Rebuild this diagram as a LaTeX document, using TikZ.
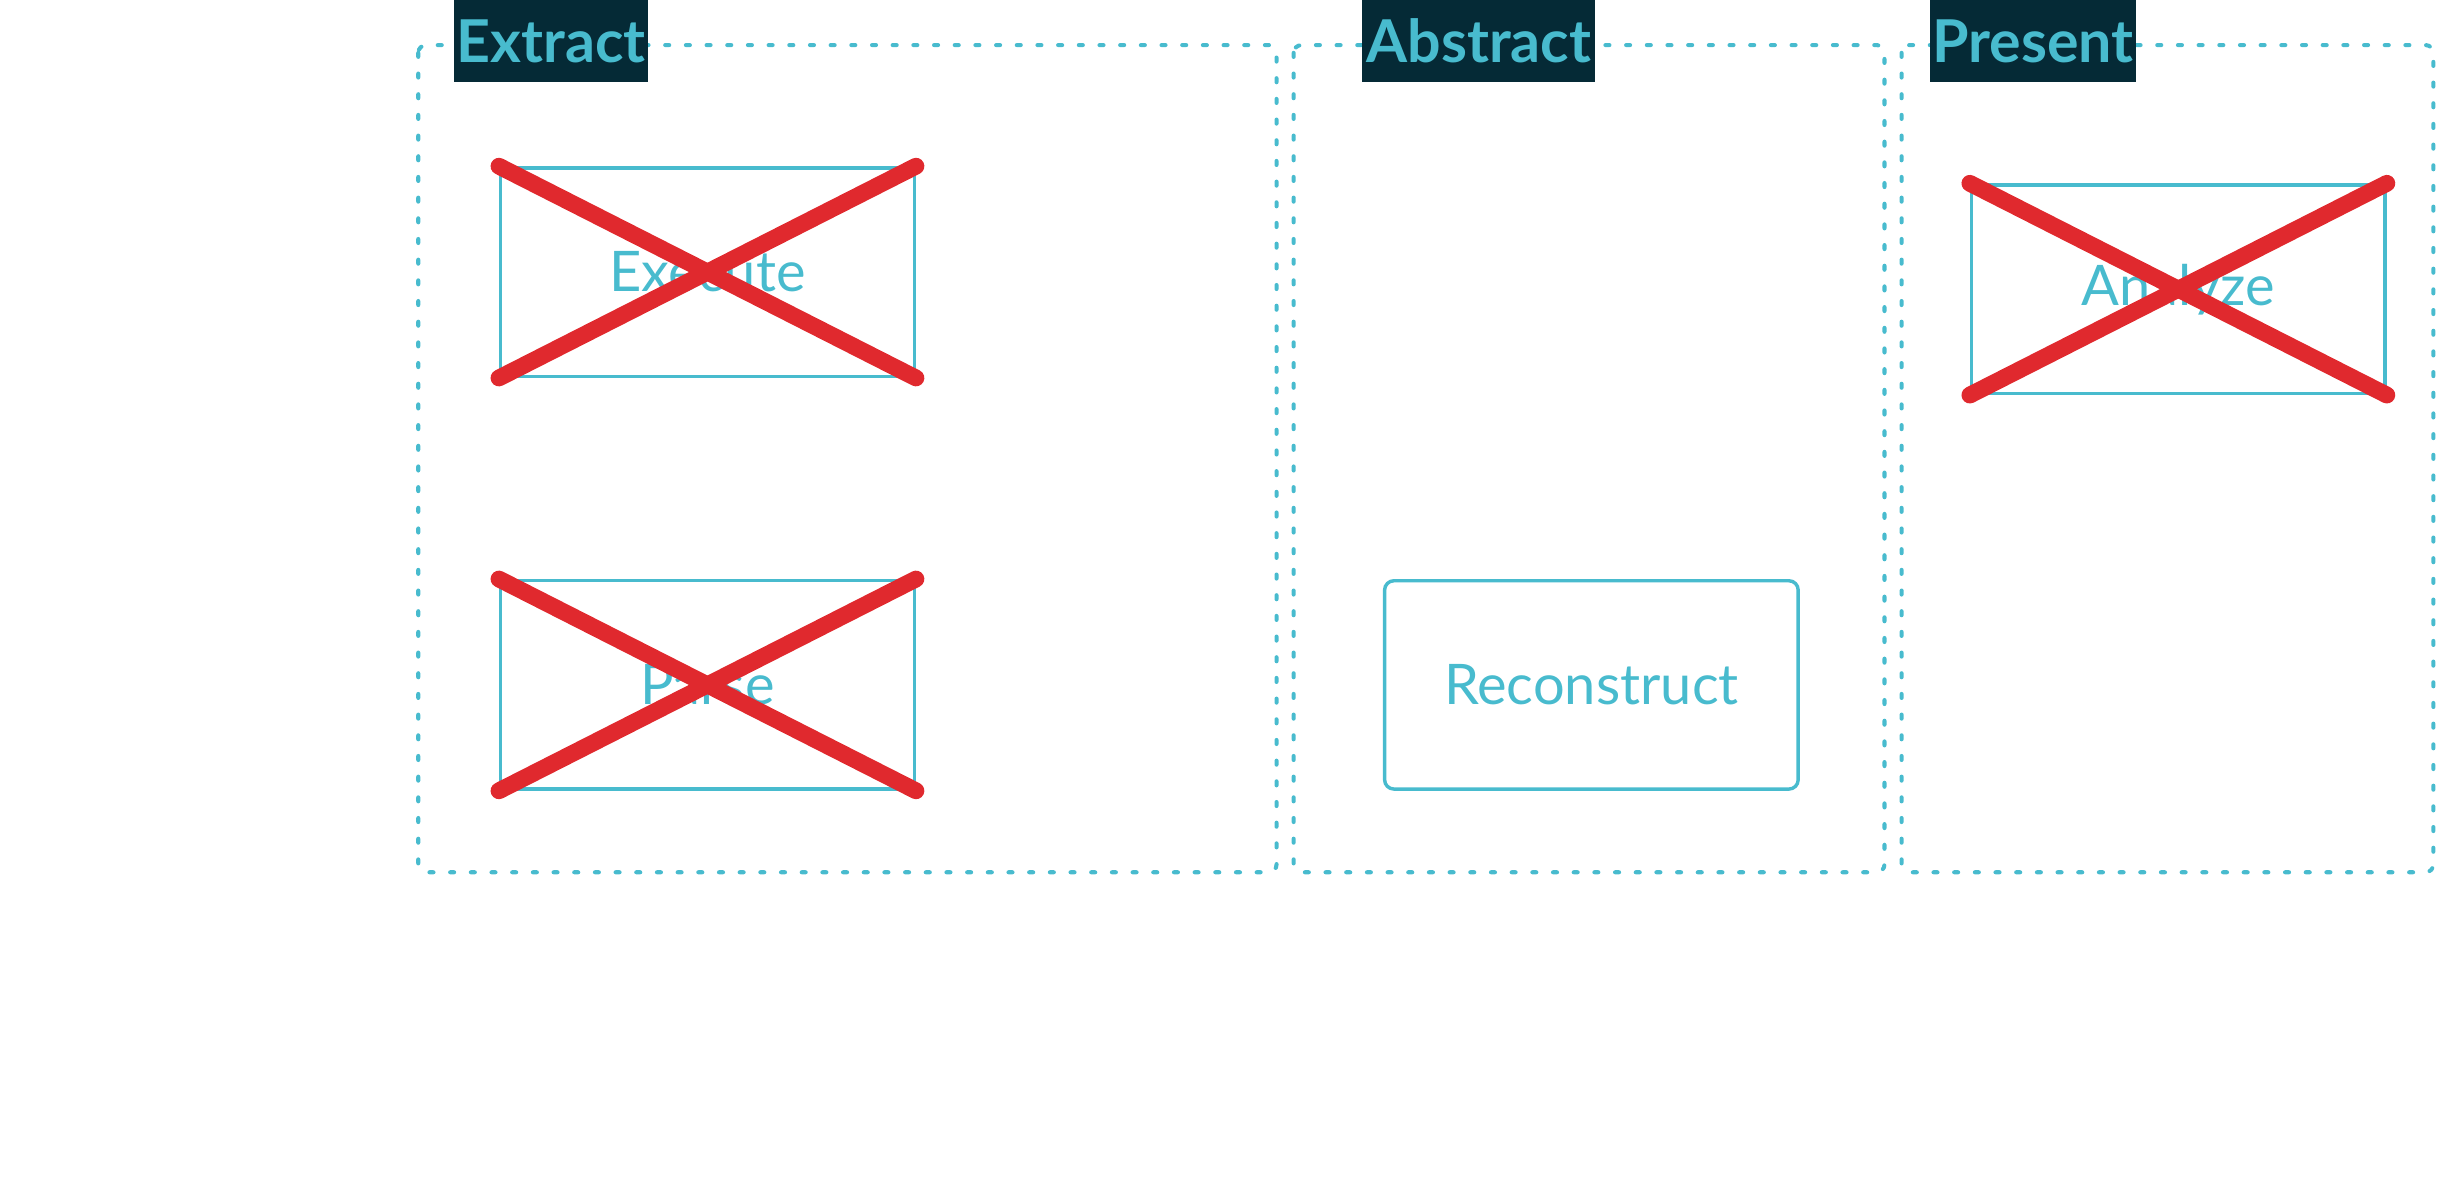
\documentclass[tikz,border=0pt]{standalone}
\usepackage{fontspec}
\setmainfont{Lato}
\definecolor{tealline}{RGB}{72,187,206}
\definecolor{navyfill}{RGB}{5,42,54}
\definecolor{crossred}{RGB}{224,41,46}
\begin{document}
\begin{tikzpicture}[x=0.5pt,y=-0.5pt,
  group/.style={draw=tealline, line width=1.3pt, line cap=round, dash pattern={on 1.3pt off 5.35pt}, rounded corners=2.5pt},
  stage/.style={draw=tealline, line width=1.1pt, text=tealline, minimum width=133pt, minimum height=67pt, inner sep=0pt, font=\fontsize{18}{21}\selectfont},
  tag/.style={fill=navyfill, text=tealline, minimum height=26.5pt, inner sep=0pt, font=\bfseries\fontsize{19}{22}\selectfont},
  cross/.style={draw=crossred, line width=5.4pt, line cap=round}]
\useasboundingbox (0,0) rectangle (1568,769);

%Group Boxes
\draw [group] (269,29) rectangle (821,561);
\draw [group] (832,29) rectangle (1212,561);
\draw [group] (1223,29) rectangle (1565,561);

% Text Node
\node [tag, minimum width=62.5pt] (extracttag) at (354.5,26.5) {Extract};
% Text Node
\node [tag, minimum width=75pt] (abstracttag) at (951,26.5) {Abstract};
% Text Node
\node [tag, minimum width=66.5pt] (presenttag) at (1307.5,26.5) {Present};

%Stage Boxes
\node [stage] (execute) at (455,175) {Execute};
\node [stage] (parse) at (455,440.5) {Parse};
\node [stage, rounded corners=3pt] (reconstruct) at (1023.5,440.5) {Reconstruct};
\node [stage] (analyze) at (1401,186) {Analyze};

%Crossed Out
\draw [cross] (execute.north west) -- (execute.south east);
\draw [cross] (execute.south west) -- (execute.north east);
\draw [cross] (parse.north west) -- (parse.south east);
\draw [cross] (parse.south west) -- (parse.north east);
\draw [cross] (analyze.north west) -- (analyze.south east);
\draw [cross] (analyze.south west) -- (analyze.north east);

\end{tikzpicture}
\end{document}
